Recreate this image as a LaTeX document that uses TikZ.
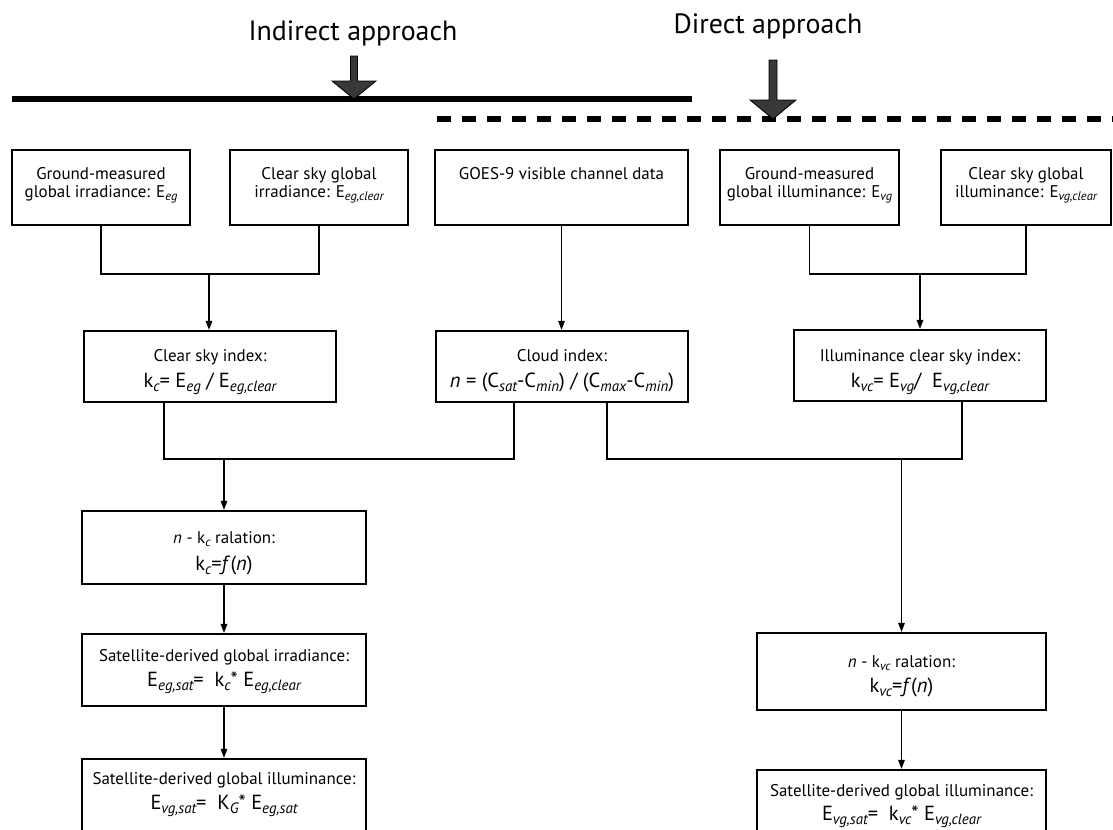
\documentclass[tikz,border=0pt]{standalone}
\usepackage{fontspec}
\setmainfont{PT Sans}
\usetikzlibrary{arrows.meta}
\newcommand\subL[1]{\raisebox{-0.22em}{\fontsize{12.5}{12}\selectfont\itshape #1}}
\newcommand\subE[1]{\raisebox{-0.22em}{\fontsize{15}{14}\selectfont\itshape #1}}
\newcommand\fsLab{\fontsize{17}{18}\selectfont}
\newcommand\fsEq{\fontsize{20.5}{22}\selectfont}
\newcommand\fsTitle{\fontsize{28}{30}\selectfont}
\begin{document}
\begin{tikzpicture}[x=1bp,y=-1bp,
  box/.style={draw, line width=2.2bp, inner sep=0pt},
  conn/.style={line width=1.4bp},
  arr/.style={conn, -{Triangle[length=9bp,width=6.5bp]}},
  lab/.style={anchor=base, inner sep=0pt, font=\fsLab},
  eqt/.style={anchor=base, inner sep=0pt, font=\fsEq},
  ttl/.style={anchor=base, inner sep=0pt, font=\fsTitle},
  bigarrow/.style={fill=black!78, draw=black, line width=0.8bp, line join=miter},
]
\useasboundingbox (0,0) rectangle (1113,830);

% ---- header ----
\node[ttl] (tind) at (353,40) {Indirect approach};
\node[ttl] (tdir) at (768,33) {Direct approach};
\draw[line width=6bp] (12,99) -- (692,99);
\draw[line width=6bp, dash pattern=on 14bp off 11bp] (437,119) -- (1113,119);
\draw[bigarrow] (350.5,56) -- (357.5,56) -- (357.5,81) -- (376,81) -- (354,99) -- (332,81) -- (350.5,81) -- cycle;
\draw[bigarrow] (769,60) -- (777,60) -- (777,100) -- (796,100) -- (773,119) -- (750,100) -- (769,100) -- cycle;

% ---- row 1 ----
\node[box, minimum width=178bp, minimum height=75bp] (b1) at (101,187.5) {};
\node[lab] (b1a) at (101,179) {Ground-measured};
\node[lab] (b1b) at (101,197) {global irradiance: E\subL{eg}};

\node[box, minimum width=178bp, minimum height=75bp] (b2) at (319,187.5) {};
\node[lab] (b2a) at (319,179) {Clear sky global};
\node[lab] (b2b) at (319,197) {irradiance: E\subL{eg,clear}};

\node[box, minimum width=253bp, minimum height=75bp] (b3) at (561.5,187.5) {};
\node[lab] (b3a) at (561.5,179) {GOES-9 visible channel data};

\node[box, minimum width=179bp, minimum height=75bp] (b4) at (809.5,187.5) {};
\node[lab] (b4a) at (809.5,179) {Ground-measured};
\node[lab] (b4b) at (809.5,197) {global illuminance: E\subL{vg}};

\node[box, minimum width=170bp, minimum height=75bp] (b5) at (1026,187.5) {};
\node[lab] (b5a) at (1026,179) {Clear sky global};
\node[lab] (b5b) at (1026,197) {illuminance: E\subL{vg,clear}};

% ---- row 2 ----
\node[box, minimum width=252bp, minimum height=71bp] (csi) at (210,366.5) {};
\node[lab] (csia) at (210,361) {Clear sky index:};
\node[eqt] (csib) at (210,387) {k\subE{c}= E\subE{eg} / E\subE{eg,clear}};

\node[box, minimum width=252bp, minimum height=71bp] (cli) at (562,366.5) {};
\node[lab] (clia) at (562,361) {Cloud index:};
\node[eqt] (clib) at (562,387) {\textit{n} = (C\subE{sat}-C\subE{min}) / (C\subE{max}-C\subE{min})};

\node[box, minimum width=252bp, minimum height=71bp] (ili) at (920,365.5) {};
\node[lab] (ilia) at (920,361) {Illuminance clear sky index:};
\node[eqt] (ilib) at (920,387) {k\subE{vc}= E\subE{vg}/\ \ E\subE{vg,clear}};

% ---- left column ----
\node[box, minimum width=284bp, minimum height=73bp] (nkc) at (224,547.5) {};
\node[lab] (nkca) at (224,543) {\textit{n} - k\subL{c} ralation:};
\node[eqt] (nkcb) at (224,570) {k\subE{c}=\textit{f}(\textit{n})};

\node[box, minimum width=284bp, minimum height=72bp] (sirr) at (224,670) {};
\node[lab] (sirra) at (224,661) {Satellite-derived global irradiance:};
\node[eqt] (sirrb) at (224,686) {E\subE{eg,sat}=\ \ k\subE{c}* E\subE{eg,clear}};

\node[box, minimum width=284bp, minimum height=82bp] (fin1) at (224,800) {};
\node[lab] (fin1a) at (224,784) {Satellite-derived global illuminance:};
\node[eqt] (fin1b) at (224,809) {E\subE{vg,sat}=\ \ K\subE{G}* E\subE{eg,sat}};

% ---- right column ----
\node[box, minimum width=289bp, minimum height=77bp] (nkvc) at (901.5,671.5) {};
\node[lab] (nkvca) at (901.5,667) {\textit{n} - k\subL{vc} ralation:};
\node[eqt] (nkvcb) at (901.5,692) {k\subE{vc}=\textit{f}(\textit{n})};

\node[box, minimum width=289bp, minimum height=72bp] (fin2) at (901.5,806) {};
\node[lab] (fin2a) at (901.5,796) {Satellite-derived global illuminance:};
\node[eqt] (fin2b) at (901.5,820) {E\subE{vg,sat}=\ \ k\subE{vc}* E\subE{vg,clear}};

% ---- connectors ----
\coordinate (j1) at (209,274);
\coordinate (j2) at (920,274);
\coordinate (jL) at (224,459);
\coordinate (jR) at (901.5,459);

\draw[conn] (b1.south) |- (j1) -| (b2.south);
\draw[arr] (j1) -- (j1 |- csi.north);
\draw[arr] (b3.south) -- (b3.south |- cli.north);
\draw[conn] (b4.south) |- (j2) -| (b5.south);
\draw[arr] (j2) -- (j2 |- ili.north);

\draw[conn] ([xshift=-46bp]csi.south) |- (jL) -| ([xshift=-48bp]cli.south);
\draw[arr] (jL) -- (nkc.north);
\draw[conn] ([xshift=45bp]cli.south) |- (jR) -| ([xshift=42bp]ili.south);
\draw[arr] (jR) -- (nkvc.north);

\draw[arr] (nkc.south) -- (sirr.north);
\draw[arr] (sirr.south) -- (fin1.north);
\draw[arr] (nkvc.south) -- (fin2.north);
\end{tikzpicture}
\end{document}
